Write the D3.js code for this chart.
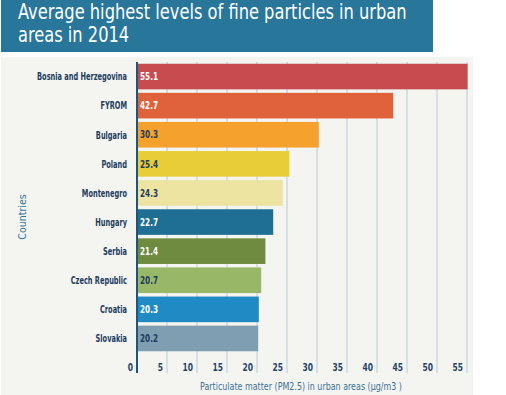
<!DOCTYPE html>
<head>
  <meta charset="utf-8">
  <script src="https://d3js.org/d3.v7.min.js"></script>
  <style>
    body { margin: 0; background: #fff; }
    svg { display: block; }
    text { font-family: "DejaVu Sans", sans-serif; font-stretch: condensed; }
    .title { fill: #fff; font-size: 21px; }
    .country { font-weight: bold; font-size: 11px; fill: #1c3d5e; }
    .value { font-weight: bold; font-size: 10.5px; }
    .tick-label { font-weight: bold; font-size: 10.5px; fill: #1f4568; }
    .axis-title { font-size: 10.5px; fill: #3b7399; }
    .grid { stroke: #b8cbd8; stroke-width: 1; }
  </style>
</head>
<body>
  <script>
    var countries = ["Bosnia and Herzegovina", "FYROM", "Bulgaria", "Poland", "Montenegro",
                     "Hungary", "Serbia", "Czech Republic", "Croatia", "Slovakia"];
    var values = [55.1, 42.7, 30.3, 25.4, 24.3, 22.7, 21.4, 20.7, 20.3, 20.2];
    var barColors = ["#c84b50", "#e0623a", "#f5a12d", "#e8cc38", "#ede4a2",
                     "#1f6e93", "#6e8b3f", "#98b868", "#1f8ac3", "#7f9eb1"];
    var labelColors = ["#fff", "#fff", "#1c3d5e", "#1c3d5e", "#1c3d5e",
                       "#fff", "#fff", "#1c3d5e", "#fff", "#1c3d5e"];
    var xTicks = [0, 5, 10, 15, 20, 25, 30, 35, 40, 45, 50, 55];
    var titleLines = ["Average highest levels of fine particles in urban", "areas in 2014"];

    var width = 506, height = 395;

    // squeeze a group of texts horizontally (narrow font look), scaling about each text's x
    function squeeze(sel, target) {
      var k = Math.min(1, target / sel.node().getComputedTextLength());
      sel.attr("transform", function() {
        var x0 = +d3.select(this).attr("x");
        return "translate(" + x0 + ",0) scale(" + k + ",1) translate(" + (-x0) + ",0)";
      });
    }

    var svg = d3.select("body").append("svg")
      .attr("width", width)
      .attr("height", height);

    // title banner
    svg.append("rect")
      .attr("x", 1).attr("y", 0)
      .attr("width", 432).attr("height", 52)
      .attr("fill", "#28769a");

    var titles = svg.selectAll(".title")
      .data(titleLines)
    .enter().append("text")
      .attr("class", "title")
      .attr("x", 18)
      .attr("y", function(d, i) { return 19 + i * 23; })
      .text(function(d) { return d; });
    squeeze(titles, 389);

    // chart panel
    svg.append("rect")
      .attr("x", 1).attr("y", 57)
      .attr("width", 472).attr("height", 338)
      .attr("fill", "#f4f4f1");

    var data = countries.map(function(c, i) {
      return { country: c, value: values[i], color: barColors[i], label: labelColors[i] };
    });

    var x = d3.scaleLinear()
      .domain([0, 55])
      .range([137, 467]);

    var y = d3.scaleBand()
      .domain(countries)
      .range([62, 353])
      .paddingInner(0.12)
      .paddingOuter(0.06);

    var gridTop = 62, gridBottom = 373;

    svg.append("g").selectAll("line")
      .data(xTicks.slice(1))
    .enter().append("line")
      .attr("class", "grid")
      .attr("x1", function(d) { return x(d); })
      .attr("x2", function(d) { return x(d); })
      .attr("y1", gridTop)
      .attr("y2", gridBottom);

    svg.append("g").selectAll("rect")
      .data(data)
    .enter().append("rect")
      .attr("x", x(0))
      .attr("y", function(d) { return y(d.country); })
      .attr("width", function(d) { return x(d.value) - x(0); })
      .attr("height", y.bandwidth())
      .attr("fill", function(d) { return d.color; });

    // zero axis line
    svg.append("line")
      .attr("x1", x(0)).attr("x2", x(0))
      .attr("y1", gridTop).attr("y2", gridBottom)
      .attr("stroke", "#1d5678")
      .attr("stroke-width", 2);

    var valueLabels = svg.append("g").selectAll("text")
      .data(data)
    .enter().append("text")
      .attr("class", "value")
      .attr("x", x(0) + 3)
      .attr("y", function(d) { return y(d.country) + y.bandwidth() / 2; })
      .attr("dy", "0.35em")
      .attr("fill", function(d) { return d.label; })
      .text(function(d) { return d3.format(".1f")(d.value); });
    squeeze(valueLabels, 18);

    var countryLabels = svg.append("g").selectAll("text")
      .data(data)
    .enter().append("text")
      .attr("class", "country")
      .attr("x", 127)
      .attr("y", function(d) { return y(d.country) + y.bandwidth() / 2; })
      .attr("dy", "0.35em")
      .attr("text-anchor", "end")
      .text(function(d) { return d.country; });
    squeeze(countryLabels, 90);

    var tickLabels = svg.append("g").selectAll("text")
      .data(xTicks.slice().reverse())
    .enter().append("text")
      .attr("class", "tick-label")
      .attr("x", function(d) { return x(d) - 4; })
      .attr("y", 367)
      .attr("dy", "0.35em")
      .attr("text-anchor", "end")
      .text(function(d) { return d; });
    squeeze(tickLabels, 10.5);

    var xTitle = svg.append("text")
      .attr("class", "axis-title")
      .attr("x", 301)
      .attr("y", 386)
      .attr("dy", "0.35em")
      .attr("text-anchor", "middle")
      .text("Particulate matter (PM2.5) in urban areas (µg/m3 )");
    squeeze(xTitle, 202);

    svg.append("text")
      .attr("class", "axis-title")
      .attr("transform", "translate(22,217) rotate(-90)")
      .attr("dy", "0.35em")
      .attr("text-anchor", "middle")
      .text("Countries");
  </script>
</body>
